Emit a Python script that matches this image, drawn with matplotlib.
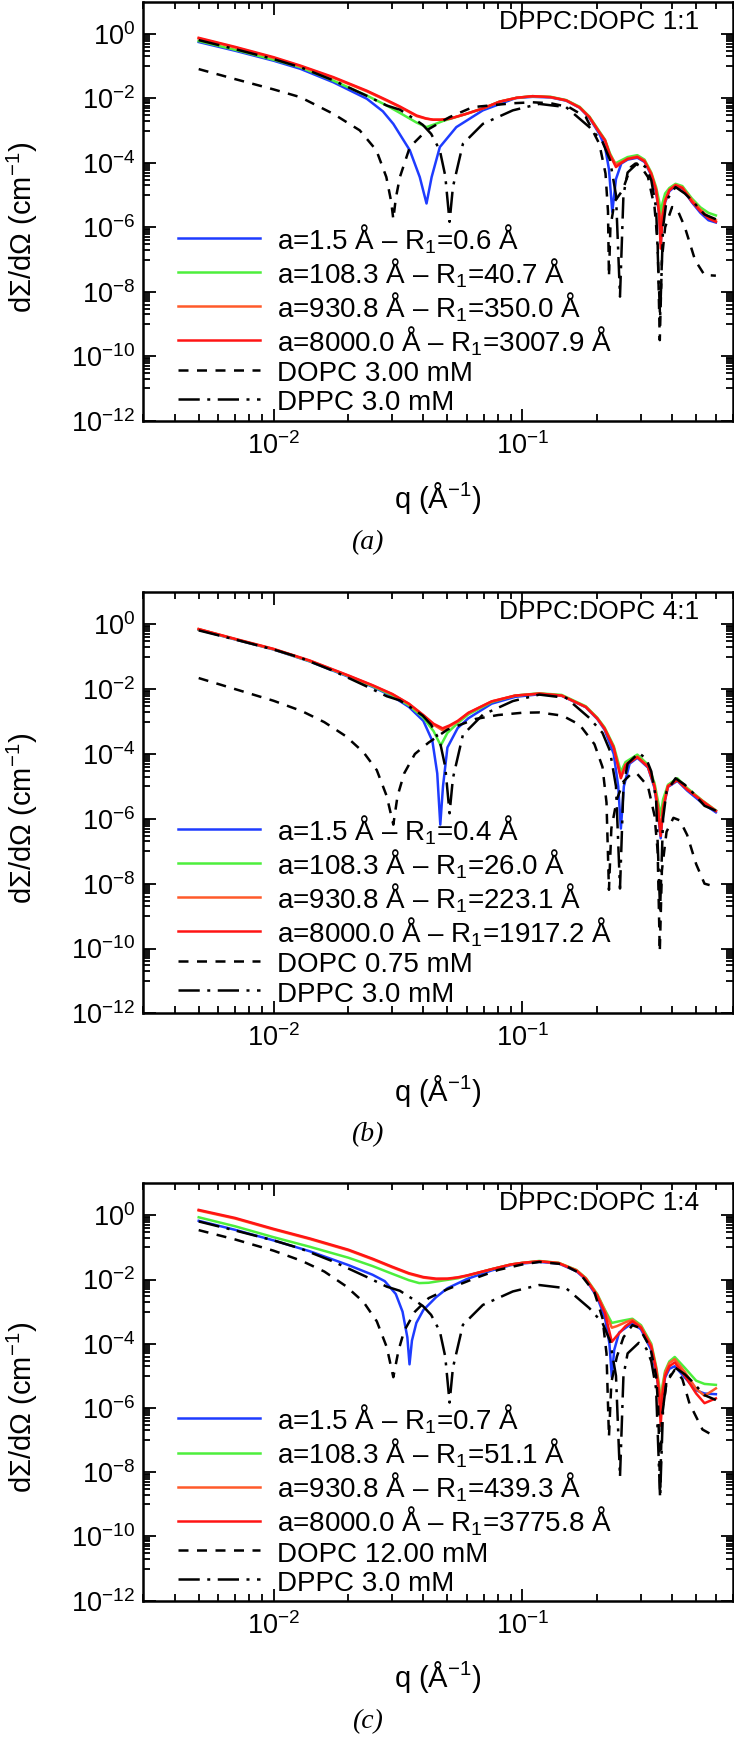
import numpy as np
import matplotlib
matplotlib.use("Agg")
import matplotlib.pyplot as plt
from matplotlib.ticker import FixedLocator, LogLocator, NullFormatter

plt.rcParams["font.family"] = ["Liberation Sans", "DejaVu Sans"]
plt.rcParams["mathtext.fontset"] = "custom"
plt.rcParams["mathtext.rm"] = "Liberation Sans"
plt.rcParams["mathtext.it"] = "Liberation Sans:italic"
plt.rcParams["mathtext.bf"] = "Liberation Sans:bold"

# valeurs : q en 1/A, intensite en log10(cm-1)

# --- (a) DPPC:DOPC 1:1 ---
q_rouge_a = [0.005, 0.007, 0.01, 0.0128, 0.0174, 0.0237, 0.0285, 0.0322, 0.0376, 0.041, 0.0438, 0.047, 0.051,
             0.0595, 0.07, 0.081, 0.095, 0.11, 0.13, 0.15, 0.17, 0.186, 0.204, 0.215, 0.225, 0.238, 0.25, 0.265,
             0.29, 0.31, 0.33, 0.345, 0.355, 0.36, 0.366, 0.375, 0.39, 0.413, 0.44, 0.48, 0.52, 0.56, 0.6]
lg_rouge_a = [-0.12, -0.40, -0.72, -0.98, -1.34, -1.76, -2.05, -2.25, -2.53, -2.62, -2.66, -2.66, -2.63,
              -2.48, -2.30, -2.10, -1.98, -1.93, -1.96, -2.06, -2.28, -2.58, -3.05, -3.30, -3.75, -4.13, -4.00,
              -3.88, -3.82, -3.95, -4.35, -4.85, -5.6, -6.66, -5.7, -5.2, -4.85, -4.70, -4.78, -5.20, -5.50,
              -5.72, -5.83]
lg_orange_a = [-0.14, -0.42, -0.74, -1.00, -1.36, -1.78, -2.07, -2.27, -2.55, -2.63, -2.66, -2.66, -2.63,
               -2.48, -2.30, -2.10, -1.98, -1.93, -1.96, -2.06, -2.28, -2.58, -3.05, -3.30, -3.75, -4.05, -3.98,
               -3.87, -3.80, -3.93, -4.33, -4.82, -5.5, -6.3, -5.6, -5.15, -4.83, -4.68, -4.76, -5.15, -5.45,
               -5.68, -5.78]
q_vert_a = [0.005, 0.007, 0.01, 0.0128, 0.0174, 0.0237, 0.0285, 0.0322, 0.0376, 0.0412, 0.0445, 0.048, 0.051,
            0.0595, 0.07, 0.081, 0.095, 0.11, 0.13, 0.15, 0.17, 0.186, 0.204, 0.215, 0.225, 0.236, 0.25, 0.265,
            0.29, 0.31, 0.33, 0.345, 0.355, 0.36, 0.366, 0.375, 0.39, 0.413, 0.44, 0.48, 0.52, 0.56, 0.6]
lg_vert_a = [-0.22, -0.49, -0.80, -1.03, -1.45, -1.91, -2.22, -2.45, -2.75, -2.89, -2.80, -2.70, -2.64,
             -2.48, -2.30, -2.10, -1.98, -1.93, -1.95, -2.05, -2.26, -2.56, -3.02, -3.28, -3.70, -4.02, -3.92,
             -3.82, -3.76, -3.90, -4.30, -4.75, -5.2, -5.57, -5.25, -4.95, -4.78, -4.65, -4.72, -5.10, -5.38,
             -5.55, -5.63]
q_bleu_a = [0.005, 0.007, 0.01, 0.0128, 0.0174, 0.0237, 0.0275, 0.0303, 0.0353, 0.0387, 0.0412, 0.0432, 0.0466,
            0.0543, 0.0694, 0.094, 0.11, 0.13, 0.15, 0.17, 0.186, 0.204, 0.215, 0.223, 0.23, 0.238, 0.25, 0.265,
            0.29, 0.31, 0.33, 0.345, 0.355, 0.36, 0.366, 0.375, 0.39, 0.413, 0.44, 0.48, 0.52, 0.56, 0.6]
lg_bleu_a = [-0.25, -0.52, -0.83, -1.08, -1.50, -2.01, -2.40, -2.79, -3.61, -4.44, -5.26, -4.44, -3.51,
             -2.89, -2.37, -1.99, -1.95, -1.97, -2.07, -2.29, -2.60, -3.10, -3.50, -4.2, -5.52, -4.5, -4.02,
             -3.90, -3.84, -3.97, -4.38, -4.9, -5.6, -6.5, -5.7, -5.22, -4.88, -4.72, -4.80, -5.22, -5.55,
             -5.78, -5.85]
q_dopc_a = [0.005, 0.007, 0.01, 0.0128, 0.0174, 0.0222, 0.0259, 0.0284, 0.0297, 0.0303, 0.031, 0.0322, 0.0353,
            0.0412, 0.051, 0.0632, 0.0916, 0.11, 0.13, 0.154, 0.18, 0.204, 0.216, 0.221, 0.223, 0.226, 0.235,
            0.253, 0.273, 0.285, 0.30, 0.32, 0.34, 0.35, 0.357, 0.364, 0.375, 0.40, 0.42, 0.45, 0.495, 0.54, 0.6]
lg_dopc_a = [-1.09, -1.40, -1.72, -1.96, -2.48, -2.99, -3.61, -4.44, -5.2, -5.75, -5.1, -4.44, -3.51,
             -2.99, -2.58, -2.27, -2.15, -2.12, -2.15, -2.27, -2.58, -3.41, -4.33, -5.5, -7.53, -6.0, -5.2,
             -4.85, -4.13, -4.02, -4.12, -4.44, -5.37, -6.5, -9.5, -7.0, -6.0, -5.37, -5.45, -5.99, -7.02,
             -7.48, -7.50]

# DPPC 3.0 mM : meme courbe sur les trois panneaux
q_dppc = [0.005, 0.007, 0.01, 0.0128, 0.0174, 0.0237, 0.0285, 0.0322, 0.037, 0.0398, 0.043, 0.0466, 0.049,
          0.051, 0.0526, 0.0577, 0.0694, 0.0916, 0.117, 0.15, 0.186, 0.21, 0.225, 0.238, 0.247, 0.255, 0.265,
          0.294, 0.315, 0.33, 0.345, 0.358, 0.368, 0.38, 0.413, 0.45, 0.48, 0.54, 0.6]
lg_dppc = [-0.19, -0.47, -0.78, -1.03, -1.44, -1.92, -2.22, -2.35, -2.65, -2.82, -3.1, -3.61, -4.4,
           -5.83, -4.75, -3.41, -2.79, -2.37, -2.17, -2.27, -2.89, -3.35, -3.9, -5.0, -8.15, -5.0, -4.3,
           -3.97, -4.15, -4.54, -5.4, -8.8, -6.0, -5.16, -4.75, -4.95, -5.16, -5.6, -5.75]

# --- (b) DPPC:DOPC 4:1 ---
q_rouge_b = [0.005, 0.007, 0.01, 0.014, 0.02, 0.025, 0.03, 0.035, 0.04, 0.044, 0.0478, 0.051, 0.055, 0.0607,
             0.0753, 0.0936, 0.117, 0.144, 0.18, 0.2, 0.214, 0.233, 0.249, 0.26, 0.29, 0.32, 0.34, 0.352, 0.36,
             0.368, 0.385, 0.42, 0.46, 0.53, 0.6]
lg_rouge_b = [-0.15, -0.45, -0.76, -1.12, -1.58, -1.88, -2.15, -2.45, -2.80, -3.07, -3.21, -3.12, -2.98, -2.73,
              -2.38, -2.20, -2.14, -2.20, -2.55, -2.90, -3.21, -3.80, -4.75, -4.35, -4.10, -4.40, -5.0, -5.8,
              -6.53, -5.7, -5.0, -4.81, -5.1, -5.46, -5.76]
lg_orange_b = [-0.15, -0.46, -0.77, -1.13, -1.59, -1.89, -2.16, -2.46, -2.82, -3.1, -3.27, -3.15, -3.0, -2.74,
               -2.38, -2.20, -2.14, -2.20, -2.55, -2.90, -3.21, -3.80, -4.7, -4.32, -4.08, -4.38, -4.98, -5.7,
               -6.4, -5.6, -4.98, -4.80, -5.08, -5.45, -5.75]
q_vert_b = [0.005, 0.007, 0.01, 0.014, 0.02, 0.025, 0.03, 0.035, 0.04, 0.044, 0.047, 0.05, 0.055, 0.0607,
            0.0753, 0.0936, 0.117, 0.144, 0.18, 0.2, 0.214, 0.233, 0.249, 0.26, 0.29, 0.32, 0.34, 0.352, 0.36,
            0.368, 0.385, 0.42, 0.46, 0.53, 0.6]
lg_vert_b = [-0.16, -0.46, -0.77, -1.14, -1.60, -1.91, -2.19, -2.50, -2.88, -3.3, -3.74, -3.35, -3.05, -2.78,
             -2.40, -2.20, -2.13, -2.18, -2.53, -2.88, -3.18, -3.75, -4.55, -4.25, -4.02, -4.33, -4.9, -5.5,
             -5.9, -5.4, -4.95, -4.75, -5.05, -5.44, -5.74]
q_bleu_b = [0.005, 0.007, 0.01, 0.014, 0.02, 0.025, 0.03, 0.035, 0.04, 0.0435, 0.0455, 0.0468, 0.048, 0.05,
            0.055, 0.0607, 0.0753, 0.0936, 0.117, 0.144, 0.18, 0.2, 0.214, 0.233, 0.243, 0.249, 0.256, 0.27,
            0.29, 0.32, 0.34, 0.352, 0.36, 0.368, 0.385, 0.42, 0.46, 0.53, 0.6]
lg_bleu_b = [-0.17, -0.47, -0.78, -1.15, -1.62, -1.93, -2.22, -2.55, -2.98, -3.6, -4.6, -6.18, -4.99, -3.8,
             -3.2, -2.90, -2.45, -2.24, -2.16, -2.21, -2.56, -2.92, -3.25, -4.0, -5.0, -6.3, -5.0, -4.3,
             -4.12, -4.42, -5.05, -5.9, -6.6, -5.7, -5.02, -4.83, -5.13, -5.52, -5.80]
q_dopc_b = [0.005, 0.007, 0.01, 0.013, 0.016, 0.0195, 0.023, 0.026, 0.0285, 0.0303, 0.0315, 0.0335, 0.037,
            0.042, 0.05, 0.065, 0.08, 0.1, 0.117, 0.145, 0.17, 0.195, 0.21, 0.218, 0.223, 0.228, 0.24, 0.255,
            0.275, 0.29, 0.32, 0.34, 0.35, 0.357, 0.364, 0.38, 0.405, 0.43, 0.46, 0.5, 0.54, 0.6]
lg_dopc_b = [-1.66, -2.0, -2.36, -2.68, -3.02, -3.45, -3.95, -4.5, -5.3, -6.18, -5.3, -4.6, -4.0,
             -3.65, -3.25, -2.92, -2.80, -2.73, -2.72, -2.82, -3.10, -3.70, -4.4, -5.5, -8.19, -6.3, -5.4,
             -4.85, -4.6, -4.62, -5.0, -5.9, -7.0, -10.1, -7.6, -6.4, -5.97, -6.05, -6.5, -7.4, -8.0, -8.1]

# --- (c) DPPC:DOPC 1:4 ---
q_rouge_c = [0.005, 0.007, 0.01, 0.014, 0.02, 0.025, 0.03, 0.035, 0.04, 0.045, 0.05, 0.055, 0.06, 0.075, 0.09,
             0.1, 0.117, 0.14, 0.165, 0.18, 0.2, 0.215, 0.229, 0.24, 0.26, 0.277, 0.3, 0.33, 0.345, 0.355,
             0.36, 0.366, 0.375, 0.39, 0.41, 0.45, 0.5, 0.54, 0.6]
lg_rouge_c = [0.17, -0.08, -0.42, -0.72, -1.07, -1.35, -1.60, -1.80, -1.92, -1.97, -1.97, -1.93, -1.87, -1.68,
              -1.53, -1.48, -1.43, -1.49, -1.72, -1.98, -2.50, -3.05, -3.94, -3.75, -3.45, -3.30, -3.50,
              -4.10, -4.8, -5.6, -6.55, -5.6, -5.0, -4.7, -4.58, -5.0, -5.55, -5.85, -5.70]
lg_orange_c = [0.15, -0.10, -0.44, -0.74, -1.09, -1.37, -1.62, -1.82, -1.94, -1.99, -1.98, -1.94, -1.88, -1.68,
               -1.53, -1.48, -1.43, -1.48, -1.71, -1.96, -2.47, -2.98, -3.5, -3.45, -3.33, -3.25, -3.46,
               -4.05, -4.75, -5.4, -6.2, -5.4, -4.9, -4.6, -4.48, -4.88, -5.4, -5.62, -5.39]
q_vert_c = [0.005, 0.007, 0.01, 0.014, 0.02, 0.025, 0.03, 0.035, 0.0385, 0.042, 0.047, 0.055, 0.06, 0.075,
            0.09, 0.1, 0.117, 0.14, 0.165, 0.18, 0.2, 0.215, 0.229, 0.245, 0.277, 0.3, 0.33, 0.345, 0.355,
            0.36, 0.366, 0.375, 0.39, 0.41, 0.45, 0.5, 0.54, 0.6]
lg_vert_c = [-0.06, -0.34, -0.68, -0.98, -1.32, -1.58, -1.82, -2.02, -2.11, -2.10, -2.04, -1.96, -1.88, -1.68,
             -1.53, -1.48, -1.42, -1.48, -1.70, -1.95, -2.45, -2.95, -3.35, -3.30, -3.22, -3.42, -4.0, -4.7,
             -5.3, -5.97, -5.3, -4.85, -4.55, -4.41, -4.75, -5.15, -5.25, -5.28]
q_bleu_c = [0.005, 0.007, 0.01, 0.014, 0.02, 0.025, 0.028, 0.031, 0.033, 0.0345, 0.0352, 0.036, 0.0375, 0.04,
            0.045, 0.05, 0.06, 0.075, 0.09, 0.1, 0.117, 0.14, 0.165, 0.18, 0.2, 0.215, 0.224, 0.229, 0.234,
            0.245, 0.277, 0.3, 0.33, 0.345, 0.355, 0.36, 0.366, 0.375, 0.39, 0.41, 0.45, 0.5, 0.54, 0.6]
lg_bleu_c = [-0.17, -0.45, -0.78, -1.12, -1.55, -1.85, -2.05, -2.45, -3.0, -3.8, -4.64, -3.9, -3.35, -2.95,
             -2.55, -2.27, -1.98, -1.72, -1.55, -1.50, -1.45, -1.50, -1.74, -2.00, -2.55, -3.2, -4.0, -5.04,
             -4.2, -3.65, -3.35, -3.55, -4.2, -4.9, -5.5, -6.1, -5.5, -5.05, -4.78, -4.70, -5.05, -5.45,
             -5.55, -5.57]
q_dopc_c = [0.005, 0.007, 0.01, 0.013, 0.016, 0.0195, 0.023, 0.026, 0.0285, 0.0303, 0.0318, 0.0335, 0.037,
            0.042, 0.05, 0.065, 0.08, 0.1, 0.117, 0.145, 0.17, 0.195, 0.21, 0.218, 0.223, 0.228, 0.24, 0.255,
            0.277, 0.295, 0.327, 0.345, 0.352, 0.358, 0.364, 0.38, 0.41, 0.44, 0.47, 0.53, 0.58, 0.6]
lg_dopc_c = [-0.46, -0.75, -1.10, -1.42, -1.75, -2.2, -2.7, -3.3, -4.1, -5.04, -4.2, -3.6, -3.0,
             -2.58, -2.30, -1.95, -1.70, -1.53, -1.45, -1.52, -1.80, -2.40, -3.2, -4.3, -6.9, -5.2, -4.4,
             -3.8, -3.42, -3.5, -4.12, -5.0, -6.0, -8.64, -6.3, -5.2, -4.81, -5.1, -5.86, -6.67, -6.84, -6.85]

legendes_a = ["a=1.5 Å – R$_1$=0.6 Å", "a=108.3 Å – R$_1$=40.7 Å", "a=930.8 Å – R$_1$=350.0 Å",
              "a=8000.0 Å – R$_1$=3007.9 Å", "DOPC 3.00 mM", "DPPC 3.0 mM"]
legendes_b = ["a=1.5 Å – R$_1$=0.4 Å", "a=108.3 Å – R$_1$=26.0 Å", "a=930.8 Å – R$_1$=223.1 Å",
              "a=8000.0 Å – R$_1$=1917.2 Å", "DOPC 0.75 mM", "DPPC 3.0 mM"]
legendes_c = ["a=1.5 Å – R$_1$=0.7 Å", "a=108.3 Å – R$_1$=51.1 Å", "a=930.8 Å – R$_1$=439.3 Å",
              "a=8000.0 Å – R$_1$=3775.8 Å", "DOPC 12.00 mM", "DPPC 3.0 mM"]

styles = [dict(color="#1e3cff", lw=1.8, ls="-"),
          dict(color="#4def3c", lw=1.8, ls="-"),
          dict(color="#ff5a2a", lw=1.8, ls="-"),
          dict(color="#ff1414", lw=1.8, ls="-"),
          dict(color="black", lw=1.8, ls=(0, (4, 3.4))),
          dict(color="black", lw=1.8, ls=(0, (8.5, 3, 1.2, 3)))]

TAILLE = 19.5


def dessine_panneau(fig, rect, courbes, legendes, titre, lettre, y_lettre):
    """ Trace un panneau : six courbes, axes log-log, legende et titre """
    ax = fig.add_axes(rect)
    for (q, lg), lab, st in zip(courbes, legendes, styles):
        ax.plot(q, 10.0 ** np.array(lg), label=lab, **st)

    ax.set_xscale("log")
    ax.set_yscale("log")
    ax.set_xlim(0.003, 0.7)
    ax.set_ylim(1e-12, 10)

    ax.yaxis.set_major_locator(FixedLocator([10.0 ** e for e in range(-12, 1, 2)]))
    ax.yaxis.set_minor_locator(FixedLocator([k * 10.0 ** e for e in range(-11, 0, 2) for k in range(1, 10)]))
    ax.yaxis.set_minor_formatter(NullFormatter())
    ax.xaxis.set_major_locator(FixedLocator([1e-2, 1e-1]))
    ax.xaxis.set_minor_locator(LogLocator(base=10, subs=range(2, 10)))
    ax.xaxis.set_minor_formatter(NullFormatter())

    ax.tick_params(which="both", direction="in", top=True, right=True, labelsize=TAILLE, width=1.3)
    ax.tick_params(which="major", length=9)
    ax.tick_params(which="minor", length=5)
    ax.tick_params(axis="y", pad=6)
    ax.tick_params(axis="x", pad=8)
    for sp in ax.spines.values():
        sp.set_linewidth(1.8)

    ax.set_xlabel("q (Å$^{-1}$)", fontsize=21)
    ax.xaxis.set_label_coords(0.5, -0.184)
    ax.xaxis.label.set_va("center")
    ax.set_ylabel("d\u03a3/d\u03a9 (cm$^{-1}$)", fontsize=21)
    ax.yaxis.set_label_coords(-0.206, 0.462)
    ax.yaxis.label.set_va("center")

    ax.text(0.944, 0.952, titre, transform=ax.transAxes, ha="right", va="center", fontsize=19)

    ax.legend(loc="upper left", bbox_to_anchor=(0.058, 0.474), frameon=False, fontsize=20,
              handlelength=2.95, handleheight=1.08, handletextpad=0.62, labelspacing=0.02,
              borderpad=0, borderaxespad=0)

    fig.text(0.5, y_lettre, lettre, ha="center", va="center", fontsize=20,
             family="Liberation Serif", style="italic")
    return ax


fig = plt.figure(figsize=(7.34, 17.37), dpi=100)

dessine_panneau(fig, [0.1955, 0.7578, 0.8025, 0.2412],
                [(q_bleu_a, lg_bleu_a), (q_vert_a, lg_vert_a), (q_rouge_a, lg_orange_a),
                 (q_rouge_a, lg_rouge_a), (q_dopc_a, lg_dopc_a), (q_dppc, lg_dppc)],
                legendes_a, "DPPC:DOPC 1:1", "(a)", 1 - 543 / 1737)
dessine_panneau(fig, [0.1955, 0.4166, 0.8025, 0.2427],
                [(q_bleu_b, lg_bleu_b), (q_vert_b, lg_vert_b), (q_rouge_b, lg_orange_b),
                 (q_rouge_b, lg_rouge_b), (q_dopc_b, lg_dopc_b), (q_dppc, lg_dppc)],
                legendes_b, "DPPC:DOPC 4:1", "(b)", 1 - 1135 / 1737)
dessine_panneau(fig, [0.1955, 0.0785, 0.8025, 0.2403],
                [(q_bleu_c, lg_bleu_c), (q_vert_c, lg_vert_c), (q_rouge_c, lg_orange_c),
                 (q_rouge_c, lg_rouge_c), (q_dopc_c, lg_dopc_c), (q_dppc, lg_dppc)],
                legendes_c, "DPPC:DOPC 1:4", "(c)", 1 - 1722 / 1737)

fig.savefig("out.png", dpi=100)
